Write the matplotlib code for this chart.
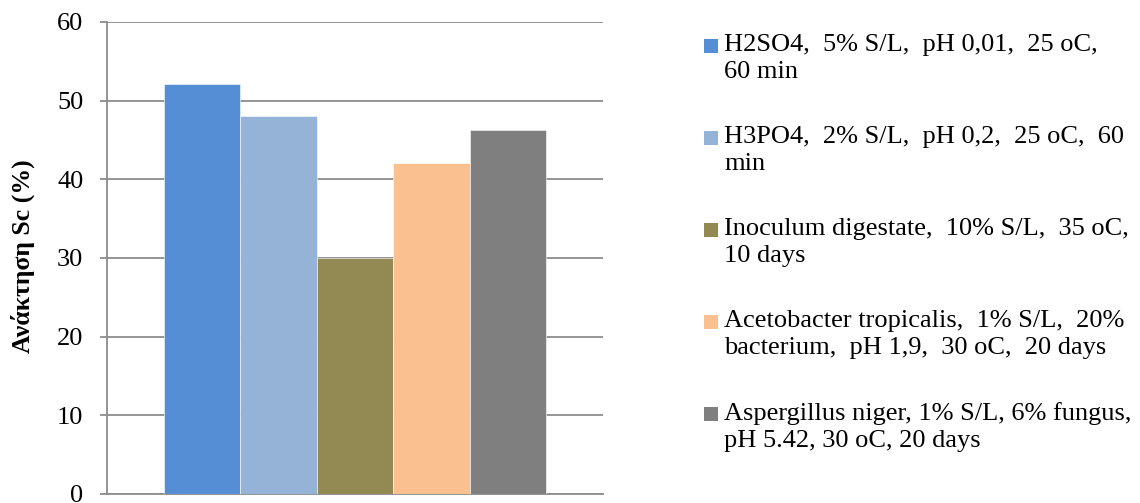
import matplotlib
matplotlib.use("Agg")
import matplotlib.pyplot as plt
from matplotlib.patches import Rectangle

plt.rcParams['font.family'] = ['Liberation Serif', 'DejaVu Serif']

# Sc recovery (%) for each leaching treatment
labels = [
    "H2SO4,  5% S/L,  pH 0,01,  25 oC,\n60 min",
    "H3PO4,  2% S/L,  pH 0,2,  25 oC,  60\nmin",
    "Inoculum digestate,  10% S/L,  35 oC,\n10 days",
    "Acetobacter tropicalis,  1% S/L,  20%\nbacterium,  pH 1,9,  30 oC,  20 days",
    "Aspergillus niger, 1% S/L, 6% fungus,\npH 5.42, 30 oC, 20 days",
]
values = [52.1, 48.1, 30.0, 42.1, 46.3]
colors = ["#558ed5", "#95b3d7", "#938953", "#fac090", "#7f7f7f"]
yticks = [0, 10, 20, 30, 40, 50, 60]

W, H = 1140, 503
fig = plt.figure(figsize=(W / 100, H / 100), dpi=100)
ax = fig.add_axes([107 / W, (H - 494) / H, (603 - 107) / W, (494 - 22) / H])

bw = 0.1544
n = len(values)
for i, (v, c) in enumerate(zip(values, colors)):
    x = (i - (n - 1) / 2) * bw
    ax.bar(x, v, width=bw, color=c, edgecolor="white", linewidth=0.4, zorder=3)

ax.set_xlim(-0.5, 0.5)
ax.set_ylim(0, 60)
ax.set_yticks(yticks)
ax.set_xticks([])
grid_c = "#8c8c8c"
ax.yaxis.grid(True, color=grid_c, linewidth=1.3, zorder=0)
ax.set_axisbelow(True)
for s in ["top", "right"]:
    ax.spines[s].set_visible(False)
for s in ["left", "bottom"]:
    ax.spines[s].set_color(grid_c)
    ax.spines[s].set_linewidth(1.3)
ax.tick_params(axis="y", length=5, width=1.3, color=grid_c, pad=12,
               labelsize=19, labelcolor="black")

fig.text(23 / W, 1 - 256 / H, "Ανάκτηση Sc (%)", rotation=90, ha="center",
         va="center", fontsize=18.5, fontweight="bold")

# Legend drawn as squares and wrapped text at the right side
first_line_y = 46
step = 92
for i, (lab, c) in enumerate(zip(labels, colors)):
    yc = first_line_y + i * step
    fig.patches.append(Rectangle((704 / W, 1 - (yc + 7) / H), 14 / W, 14 / H,
                                 transform=fig.transFigure, facecolor=c,
                                 edgecolor="none"))
    fig.text(724 / W, 1 - (yc - 12) / H, lab, ha="left", va="top",
             fontsize=19, linespacing=1.3)

fig.savefig("out.png", dpi=100)
